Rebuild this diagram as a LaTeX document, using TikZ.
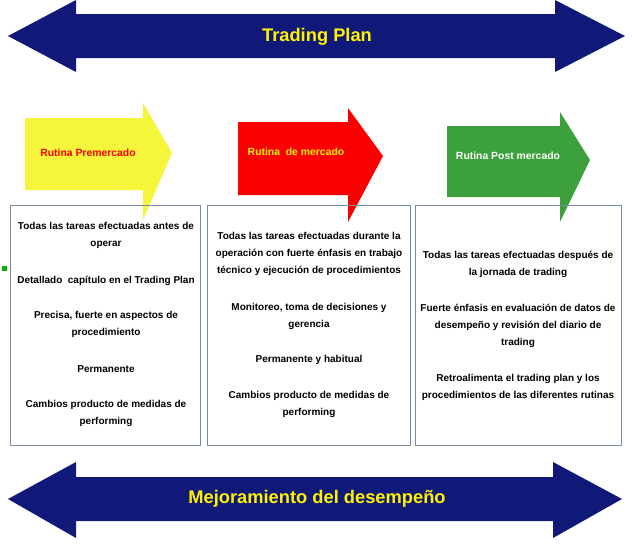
\documentclass[tikz,border=0pt]{standalone}
\usepackage{fontspec}
\setmainfont{Liberation Sans}
\definecolor{navy}{RGB}{16,24,120}
\definecolor{ylw}{RGB}{245,245,60}
\definecolor{rd}{RGB}{250,0,0}
\definecolor{grn}{RGB}{60,160,60}
\definecolor{frame}{RGB}{120,140,170}
\tikzset{
  bigtext/.style={font=\bfseries\fontsize{18.3}{21}\selectfont, text=yellow},
  routine/.style={font=\bfseries\fontsize{10.4}{12}\selectfont},
  infobox/.style={draw=frame, line width=0.8pt},
  info/.style={align=center, font=\bfseries\fontsize{10}{17}\selectfont, inner sep=0pt}
}
\begin{document}
\begin{tikzpicture}[x=1pt,y=-1pt]
  \useasboundingbox (0,0) rectangle (633,544);
  % big arrows
  \fill[navy] (8,36) -- (76,0) -- (76,14) -- (555,14) -- (555,0) -- (625,36) -- (555,72) -- (555,58) -- (76,58) -- (76,72) -- cycle;
  \node[bigtext] (plan) at (317,37) {Trading Plan};
  \fill[navy] (8,499) -- (76,462) -- (76,477) -- (553,477) -- (553,462) -- (622,499) -- (553,538) -- (553,521) -- (76,521) -- (76,538) -- cycle;
  \node[bigtext] (mejora) at (317,499) {Mejoramiento del desempeño};
  % routine arrows
  \fill[ylw] (25,118) -- (143,118) -- (143,103) -- (172,153) -- (143,220) -- (143,190) -- (25,190) -- cycle;
  \node[routine, text=rd] (pre) at (88,153) {Rutina Premercado};
  \fill[rd] (238,122) -- (348,122) -- (348,108) -- (383,156) -- (348,222) -- (348,195) -- (238,195) -- cycle;
  \node[routine, text=yellow] (mer) at (296,152) {Rutina \ de mercado};
  \fill[grn] (447,126) -- (560,126) -- (560,112) -- (590,160) -- (560,222) -- (560,197) -- (447,197) -- cycle;
  \node[routine, text=white] (post) at (508,156) {Rutina Post mercado};
  % boxes
  \draw[infobox] (10,205) rectangle (200,445);
  \draw[infobox] (207,205) rectangle (410,445);
  \draw[infobox] (415,205) rectangle (621,445);
  \fill[green!70!black] (2,266) rectangle (7,271);
  % box texts
  \node[info] (a1) at (106,235.5) {Todas las tareas efectuadas antes de\\operar};
  \node[info] (a2) at (106,281) {Detallado \ capítulo en el Trading Plan};
  \node[info] (a3) at (106,324.5) {Precisa, fuerte en aspectos de\\procedimiento};
  \node[info] (a4) at (106,369) {Permanente};
  \node[info] (a5) at (106,413) {Cambios producto de medidas de\\performing};
  \node[info] (b1) at (309,254) {Todas las tareas efectuadas durante la\\operación con fuerte énfasis en trabajo\\técnico y ejecución de procedimientos};
  \node[info] (b2) at (309,316.5) {Monitoreo, toma de decisiones y\\gerencia};
  \node[info] (b3) at (309,360) {Permanente y habitual};
  \node[info] (b4) at (309,404.5) {Cambios producto de medidas de\\performing};
  \node[info] (c1) at (518,264.5) {Todas las tareas efectuadas después de\\la jornada de trading};
  \node[info] (c2) at (518,326) {Fuerte énfasis en evaluación de datos de\\desempeño y revisión del diario de\\trading};
  \node[info] (c3) at (518,387.5) {Retroalimenta el trading plan y los\\procedimientos de las diferentes rutinas};
\end{tikzpicture}
\end{document}
